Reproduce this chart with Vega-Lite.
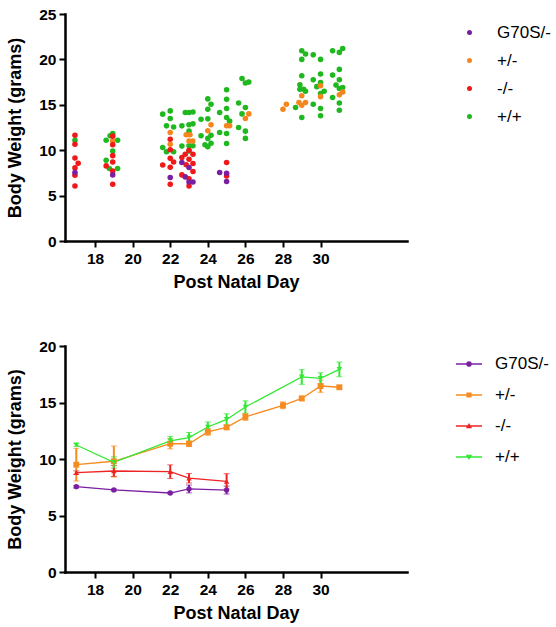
{
  "$schema": "https://vega.github.io/schema/vega-lite/v6.json",
  "padding": {"left": 6, "top": 7, "right": 0, "bottom": 0},
  "spacing": 47,
  "resolve": {"scale": {"color": "independent", "shape": "independent"}, "legend": {"color": "independent", "shape": "independent"}},
  "config": {
    "view": {"stroke": null},
    "font": "Liberation Sans",
    "axis": {"domainColor": "black", "domainWidth": 2.5, "domainCap": "square", "tickColor": "black", "tickWidth": 2, "tickSize": 6, "labelFont": "Liberation Sans", "labelFontWeight": "bold", "labelFontSize": 15.5, "labelColor": "black", "labelPadding": 3, "titleFont": "Liberation Sans", "titleFontSize": 18, "titleFontWeight": "bold", "titleColor": "black", "grid": false},
    "axisY": {"titlePadding": 14},
    "axisX": {"titlePadding": 7, "labelPadding": 4},
    "legend": {"labelFont": "Liberation Sans", "labelFontSize": 17, "labelColor": "black", "padding": 0}
  },
  "datasets": {
    "scatter": [
      {"genotype": "+/+", "day": 16.93, "weight": 11.1},
      {"genotype": "+/+", "day": 18.94, "weight": 11.84},
      {"genotype": "+/+", "day": 18.8, "weight": 11.6},
      {"genotype": "+/+", "day": 18.59, "weight": 11.1},
      {"genotype": "+/+", "day": 19.2, "weight": 11.1},
      {"genotype": "+/+", "day": 18.94, "weight": 9.92},
      {"genotype": "+/+", "day": 18.59, "weight": 8.9},
      {"genotype": "+/+", "day": 18.76, "weight": 7.98},
      {"genotype": "+/+", "day": 19.2, "weight": 7.98},
      {"genotype": "+/+", "day": 21.6, "weight": 13.97},
      {"genotype": "+/+", "day": 22.0, "weight": 14.33},
      {"genotype": "+/+", "day": 22.0, "weight": 13.5},
      {"genotype": "+/+", "day": 21.8, "weight": 12.68},
      {"genotype": "+/+", "day": 22.18, "weight": 12.55},
      {"genotype": "+/+", "day": 21.6, "weight": 10.3},
      {"genotype": "+/+", "day": 21.8, "weight": 9.83},
      {"genotype": "+/+", "day": 22.18, "weight": 9.83},
      {"genotype": "+/+", "day": 22.8, "weight": 14.15},
      {"genotype": "+/+", "day": 23.0, "weight": 14.15},
      {"genotype": "+/+", "day": 23.21, "weight": 14.2},
      {"genotype": "+/+", "day": 22.62, "weight": 12.68},
      {"genotype": "+/+", "day": 23.0, "weight": 12.8},
      {"genotype": "+/+", "day": 23.21, "weight": 12.9},
      {"genotype": "+/+", "day": 23.0, "weight": 12.1},
      {"genotype": "+/+", "day": 22.62, "weight": 10.45},
      {"genotype": "+/+", "day": 23.0, "weight": 10.5},
      {"genotype": "+/+", "day": 23.21, "weight": 10.5},
      {"genotype": "+/+", "day": 23.0, "weight": 9.9},
      {"genotype": "+/+", "day": 23.64, "weight": 13.4},
      {"genotype": "+/+", "day": 24.0, "weight": 15.65},
      {"genotype": "+/+", "day": 24.17, "weight": 15.07},
      {"genotype": "+/+", "day": 24.0, "weight": 14.5},
      {"genotype": "+/+", "day": 24.0, "weight": 13.45},
      {"genotype": "+/+", "day": 24.17, "weight": 11.65},
      {"genotype": "+/+", "day": 23.64, "weight": 11.6},
      {"genotype": "+/+", "day": 24.0, "weight": 11.3},
      {"genotype": "+/+", "day": 24.17, "weight": 10.77},
      {"genotype": "+/+", "day": 23.85, "weight": 10.6},
      {"genotype": "+/+", "day": 24.0, "weight": 10.37},
      {"genotype": "+/+", "day": 25.0, "weight": 16.65},
      {"genotype": "+/+", "day": 25.0, "weight": 15.6},
      {"genotype": "+/+", "day": 25.0, "weight": 14.6},
      {"genotype": "+/+", "day": 24.63, "weight": 14.15},
      {"genotype": "+/+", "day": 25.0, "weight": 13.6},
      {"genotype": "+/+", "day": 25.16, "weight": 13.2},
      {"genotype": "+/+", "day": 24.63, "weight": 11.95},
      {"genotype": "+/+", "day": 25.0, "weight": 11.84},
      {"genotype": "+/+", "day": 25.0, "weight": 10.74},
      {"genotype": "+/+", "day": 25.82, "weight": 17.9},
      {"genotype": "+/+", "day": 26.0, "weight": 17.4},
      {"genotype": "+/+", "day": 26.18, "weight": 17.5},
      {"genotype": "+/+", "day": 25.64, "weight": 15.2},
      {"genotype": "+/+", "day": 26.0, "weight": 14.7},
      {"genotype": "+/+", "day": 25.82, "weight": 14.0},
      {"genotype": "+/+", "day": 25.64, "weight": 12.5},
      {"genotype": "+/+", "day": 26.0, "weight": 12.1},
      {"genotype": "+/+", "day": 26.0, "weight": 11.3},
      {"genotype": "+/+", "day": 29.0, "weight": 20.95},
      {"genotype": "+/+", "day": 29.2, "weight": 20.6},
      {"genotype": "+/+", "day": 29.0, "weight": 20.0},
      {"genotype": "+/+", "day": 29.0, "weight": 18.2},
      {"genotype": "+/+", "day": 28.9, "weight": 17.2},
      {"genotype": "+/+", "day": 28.9, "weight": 16.7},
      {"genotype": "+/+", "day": 29.1, "weight": 16.7},
      {"genotype": "+/+", "day": 29.2, "weight": 16.5},
      {"genotype": "+/+", "day": 28.67, "weight": 14.7},
      {"genotype": "+/+", "day": 29.0, "weight": 13.6},
      {"genotype": "+/+", "day": 29.61, "weight": 20.5},
      {"genotype": "+/+", "day": 30.0, "weight": 20.0},
      {"genotype": "+/+", "day": 30.0, "weight": 18.4},
      {"genotype": "+/+", "day": 29.61, "weight": 17.75},
      {"genotype": "+/+", "day": 30.0, "weight": 17.45},
      {"genotype": "+/+", "day": 29.8, "weight": 17.0},
      {"genotype": "+/+", "day": 30.19, "weight": 16.5},
      {"genotype": "+/+", "day": 30.0, "weight": 16.25},
      {"genotype": "+/+", "day": 29.61, "weight": 15.07},
      {"genotype": "+/+", "day": 30.0, "weight": 14.6},
      {"genotype": "+/+", "day": 30.0, "weight": 13.8},
      {"genotype": "+/+", "day": 30.64, "weight": 20.95},
      {"genotype": "+/+", "day": 31.0, "weight": 20.77},
      {"genotype": "+/+", "day": 31.18, "weight": 21.2},
      {"genotype": "+/+", "day": 31.0, "weight": 18.9},
      {"genotype": "+/+", "day": 30.64, "weight": 18.27},
      {"genotype": "+/+", "day": 31.0, "weight": 17.75},
      {"genotype": "+/+", "day": 30.82, "weight": 17.17},
      {"genotype": "+/+", "day": 31.0, "weight": 16.8},
      {"genotype": "+/+", "day": 31.18, "weight": 16.9},
      {"genotype": "+/+", "day": 30.64, "weight": 15.8},
      {"genotype": "+/+", "day": 31.0, "weight": 15.2},
      {"genotype": "+/+", "day": 31.0, "weight": 14.4},
      {"genotype": "+/-", "day": 18.94, "weight": 11.0},
      {"genotype": "+/-", "day": 22.0, "weight": 11.95},
      {"genotype": "+/-", "day": 22.0, "weight": 10.66},
      {"genotype": "+/-", "day": 22.85, "weight": 11.7},
      {"genotype": "+/-", "day": 23.05, "weight": 11.7},
      {"genotype": "+/-", "day": 23.0, "weight": 11.0},
      {"genotype": "+/-", "day": 23.2, "weight": 11.0},
      {"genotype": "+/-", "day": 24.17, "weight": 12.8},
      {"genotype": "+/-", "day": 24.0, "weight": 12.15},
      {"genotype": "+/-", "day": 25.0, "weight": 12.7},
      {"genotype": "+/-", "day": 25.16, "weight": 12.7},
      {"genotype": "+/-", "day": 26.18, "weight": 14.0},
      {"genotype": "+/-", "day": 26.0, "weight": 13.5},
      {"genotype": "+/-", "day": 28.0, "weight": 14.5},
      {"genotype": "+/-", "day": 28.18, "weight": 15.07},
      {"genotype": "+/-", "day": 29.0, "weight": 16.0},
      {"genotype": "+/-", "day": 28.85, "weight": 15.26},
      {"genotype": "+/-", "day": 29.2, "weight": 15.26},
      {"genotype": "+/-", "day": 29.0, "weight": 14.96},
      {"genotype": "+/-", "day": 30.0, "weight": 17.1},
      {"genotype": "+/-", "day": 30.0, "weight": 15.9},
      {"genotype": "+/-", "day": 31.18, "weight": 16.4},
      {"genotype": "+/-", "day": 31.0, "weight": 16.1},
      {"genotype": "-/-", "day": 16.93, "weight": 11.65},
      {"genotype": "-/-", "day": 16.93, "weight": 10.66},
      {"genotype": "-/-", "day": 16.93, "weight": 9.15},
      {"genotype": "-/-", "day": 17.1, "weight": 8.56},
      {"genotype": "-/-", "day": 16.93, "weight": 8.05},
      {"genotype": "-/-", "day": 16.93, "weight": 7.25},
      {"genotype": "-/-", "day": 16.93, "weight": 6.06},
      {"genotype": "-/-", "day": 18.94, "weight": 11.55},
      {"genotype": "-/-", "day": 18.94, "weight": 10.6},
      {"genotype": "-/-", "day": 18.94, "weight": 9.4},
      {"genotype": "-/-", "day": 18.94, "weight": 8.7},
      {"genotype": "-/-", "day": 18.59, "weight": 8.27},
      {"genotype": "-/-", "day": 18.94, "weight": 7.7},
      {"genotype": "-/-", "day": 18.94, "weight": 6.25},
      {"genotype": "-/-", "day": 22.0, "weight": 11.2},
      {"genotype": "-/-", "day": 22.0, "weight": 10.05},
      {"genotype": "-/-", "day": 22.0, "weight": 9.1},
      {"genotype": "-/-", "day": 22.18, "weight": 8.7},
      {"genotype": "-/-", "day": 21.6, "weight": 8.38},
      {"genotype": "-/-", "day": 22.0, "weight": 8.13},
      {"genotype": "-/-", "day": 22.0, "weight": 6.25},
      {"genotype": "-/-", "day": 23.0, "weight": 10.0},
      {"genotype": "-/-", "day": 22.8, "weight": 9.56},
      {"genotype": "-/-", "day": 23.21, "weight": 9.56},
      {"genotype": "-/-", "day": 22.62, "weight": 9.2},
      {"genotype": "-/-", "day": 23.0, "weight": 9.0},
      {"genotype": "-/-", "day": 23.21, "weight": 8.53},
      {"genotype": "-/-", "day": 22.85, "weight": 8.4},
      {"genotype": "-/-", "day": 23.21, "weight": 7.65},
      {"genotype": "-/-", "day": 22.62, "weight": 7.28},
      {"genotype": "-/-", "day": 23.0, "weight": 6.85},
      {"genotype": "-/-", "day": 23.0, "weight": 6.06},
      {"genotype": "-/-", "day": 25.0, "weight": 8.64},
      {"genotype": "-/-", "day": 25.0, "weight": 7.17},
      {"genotype": "G70S/-", "day": 16.93, "weight": 7.54},
      {"genotype": "G70S/-", "day": 18.94, "weight": 7.28},
      {"genotype": "G70S/-", "day": 22.0, "weight": 7.0},
      {"genotype": "G70S/-", "day": 22.62, "weight": 8.64},
      {"genotype": "G70S/-", "day": 23.0, "weight": 8.1},
      {"genotype": "G70S/-", "day": 22.8, "weight": 7.06},
      {"genotype": "G70S/-", "day": 23.0, "weight": 6.5},
      {"genotype": "G70S/-", "day": 23.21, "weight": 6.5},
      {"genotype": "G70S/-", "day": 24.63, "weight": 7.54},
      {"genotype": "G70S/-", "day": 25.0, "weight": 7.46},
      {"genotype": "G70S/-", "day": 25.0, "weight": 6.55}
    ],
    "means": [
      {"genotype": "G70S/-", "day": 17, "mean": 7.55, "lo": 7.45, "hi": 7.65},
      {"genotype": "G70S/-", "day": 19, "mean": 7.26, "lo": 7.18, "hi": 7.34},
      {"genotype": "G70S/-", "day": 22, "mean": 6.99, "lo": 6.91, "hi": 7.07},
      {"genotype": "G70S/-", "day": 23, "mean": 7.35, "lo": 7.0, "hi": 7.7},
      {"genotype": "G70S/-", "day": 25, "mean": 7.25, "lo": 6.9, "hi": 7.6},
      {"genotype": "+/-", "day": 17, "mean": 9.5, "lo": 8.05, "hi": 10.95},
      {"genotype": "+/-", "day": 19, "mean": 9.8, "lo": 8.4, "hi": 11.15},
      {"genotype": "+/-", "day": 22, "mean": 11.35, "lo": 10.9, "hi": 11.8},
      {"genotype": "+/-", "day": 23, "mean": 11.35, "lo": 11.1, "hi": 11.6},
      {"genotype": "+/-", "day": 24, "mean": 12.4, "lo": 12.1, "hi": 12.7},
      {"genotype": "+/-", "day": 25, "mean": 12.8, "lo": 12.6, "hi": 13.0},
      {"genotype": "+/-", "day": 26, "mean": 13.72, "lo": 13.42, "hi": 14.02},
      {"genotype": "+/-", "day": 28, "mean": 14.75, "lo": 14.45, "hi": 15.05},
      {"genotype": "+/-", "day": 29, "mean": 15.36, "lo": 15.16, "hi": 15.56},
      {"genotype": "+/-", "day": 30, "mean": 16.46, "lo": 15.9, "hi": 17.0},
      {"genotype": "+/-", "day": 31, "mean": 16.35, "lo": 16.2, "hi": 16.5},
      {"genotype": "-/-", "day": 17, "mean": 8.8, "lo": 8.65, "hi": 8.95},
      {"genotype": "-/-", "day": 19, "mean": 8.94, "lo": 8.45, "hi": 9.43},
      {"genotype": "-/-", "day": 22, "mean": 8.88, "lo": 8.28, "hi": 9.48},
      {"genotype": "-/-", "day": 23, "mean": 8.3, "lo": 7.88, "hi": 8.72},
      {"genotype": "-/-", "day": 25, "mean": 8.02, "lo": 7.35, "hi": 8.7},
      {"genotype": "+/+", "day": 17, "mean": 11.24, "lo": 11.12, "hi": 11.36},
      {"genotype": "+/+", "day": 19, "mean": 9.7, "lo": 9.2, "hi": 10.2},
      {"genotype": "+/+", "day": 22, "mean": 11.6, "lo": 11.2, "hi": 12.0},
      {"genotype": "+/+", "day": 23, "mean": 11.9, "lo": 11.45, "hi": 12.35},
      {"genotype": "+/+", "day": 24, "mean": 12.83, "lo": 12.38, "hi": 13.28},
      {"genotype": "+/+", "day": 25, "mean": 13.5, "lo": 13.0, "hi": 14.0},
      {"genotype": "+/+", "day": 26, "mean": 14.6, "lo": 14.05, "hi": 15.15},
      {"genotype": "+/+", "day": 29, "mean": 17.26, "lo": 16.61, "hi": 17.91},
      {"genotype": "+/+", "day": 30, "mean": 17.13, "lo": 16.63, "hi": 17.63},
      {"genotype": "+/+", "day": 31, "mean": 17.93, "lo": 17.28, "hi": 18.58}
    ]
  },
  "vconcat": [
    {
      "width": 342,
      "height": 227,
      "data": {"name": "scatter"},
      "mark": {"type": "circle", "size": 31, "opacity": 1},
      "encoding": {
        "x": {"field": "day", "type": "quantitative", "scale": {"domain": [16.4, 34.6], "nice": false, "zero": false}, "axis": {"values": [18, 20, 22, 24, 26, 28, 30], "title": "Post Natal Day"}},
        "y": {"field": "weight", "type": "quantitative", "scale": {"domain": [0, 25], "nice": false}, "axis": {"values": [0, 5, 10, 15, 20, 25], "title": "Body Weight (grams)"}},
        "color": {"field": "genotype", "type": "nominal",
          "scale": {"domain": ["G70S/-", "+/-", "-/-", "+/+"], "range": ["#7A1FA2", "#F5861F", "#F01818", "#1FB81F"]},
          "legend": {"title": null, "orient": "none", "legendX": 396, "legendY": 10, "symbolType": "circle", "symbolSize": 25, "symbolStrokeWidth": 0, "labelOffset": 19, "rowPadding": 10}}
      }
    },
    {
      "width": 342,
      "height": 226,
      "data": {"name": "means"},
      "layer": [
        {
          "transform": [{"filter": "datum.day > 100"}],
          "mark": {"type": "point", "filled": true, "size": 30, "opacity": 1},
          "encoding": {
            "x": {"field": "day", "type": "quantitative", "scale": {"domain": [16.4, 34.6], "nice": false, "zero": false}, "axis": {"values": [18, 20, 22, 24, 26, 28, 30], "title": "Post Natal Day"}},
            "y": {"field": "mean", "type": "quantitative", "scale": {"domain": [0, 20], "nice": false}, "axis": {"values": [0, 5, 10, 15, 20], "title": "Body Weight (grams)"}},
            "color": {"field": "genotype", "type": "nominal",
              "scale": {"domain": ["G70S/-", "+/-", "-/-", "+/+"], "range": ["#7B1FA2", "#F68B1F", "#EE2424", "#33E833"]},
              "legend": {"title": null, "orient": "none", "legendX": 391, "legendY": 5, "symbolSize": 676, "symbolOpacity": 1, "symbolStrokeWidth": 0, "labelOffset": 13, "rowPadding": 10}},
            "shape": {"field": "genotype", "type": "nominal",
              "scale": {"domain": ["G70S/-", "+/-", "-/-", "+/+"], "range": [
                "M-1,-0.06H1V0.06H-1Z M-0.22,0A0.22,0.22,0,1,1,0.22,0A0.22,0.22,0,1,1,-0.22,0Z",
                "M-1,-0.06H1V0.06H-1Z M-0.2,-0.2H0.2V0.2H-0.2Z",
                "M-1,-0.06H1V0.06H-1Z M0,-0.24L0.24,0.18H-0.24Z",
                "M-1,-0.06H1V0.06H-1Z M0,0.24L-0.24,-0.18H0.24Z"
              ]},
              "legend": {"title": null, "orient": "none", "legendX": 391, "legendY": 5, "symbolSize": 676, "symbolOpacity": 1, "symbolStrokeWidth": 0, "labelOffset": 13, "rowPadding": 10}}
          }
        },
        {
          "mark": {"type": "line", "strokeWidth": 1.3},
          "encoding": {
            "x": {"field": "day", "type": "quantitative"},
            "y": {"field": "mean", "type": "quantitative"},
            "color": {"field": "genotype", "type": "nominal", "legend": null}
          }
        },
        {
          "mark": {"type": "errorbar", "ticks": {"size": 6, "strokeWidth": 2}, "rule": {"strokeWidth": 2}},
          "encoding": {
            "x": {"field": "day", "type": "quantitative"},
            "y": {"field": "lo", "type": "quantitative", "title": "Body Weight (grams)"},
            "y2": {"field": "hi"},
            "color": {"field": "genotype", "type": "nominal", "legend": null}
          }
        },
        {
          "transform": [{"filter": "datum.genotype === 'G70S/-'"}],
          "mark": {"type": "point", "shape": "circle", "filled": true, "size": 28, "opacity": 1},
          "encoding": {"x": {"field": "day", "type": "quantitative"}, "y": {"field": "mean", "type": "quantitative"}, "color": {"field": "genotype", "type": "nominal", "legend": null}}
        },
        {
          "transform": [{"filter": "datum.genotype === '+/-'"}],
          "mark": {"type": "point", "shape": "square", "filled": true, "size": 34, "opacity": 1},
          "encoding": {"x": {"field": "day", "type": "quantitative"}, "y": {"field": "mean", "type": "quantitative"}, "color": {"field": "genotype", "type": "nominal", "legend": null}}
        },
        {
          "transform": [{"filter": "datum.genotype === '-/-'"}],
          "mark": {"type": "point", "shape": "triangle-up", "filled": true, "size": 30, "opacity": 1},
          "encoding": {"x": {"field": "day", "type": "quantitative"}, "y": {"field": "mean", "type": "quantitative"}, "color": {"field": "genotype", "type": "nominal", "legend": null}}
        },
        {
          "transform": [{"filter": "datum.genotype === '+/+'"}],
          "mark": {"type": "point", "shape": "triangle-down", "filled": true, "size": 30, "opacity": 1},
          "encoding": {"x": {"field": "day", "type": "quantitative"}, "y": {"field": "mean", "type": "quantitative"}, "color": {"field": "genotype", "type": "nominal", "legend": null}}
        }
      ]
    }
  ]
}
